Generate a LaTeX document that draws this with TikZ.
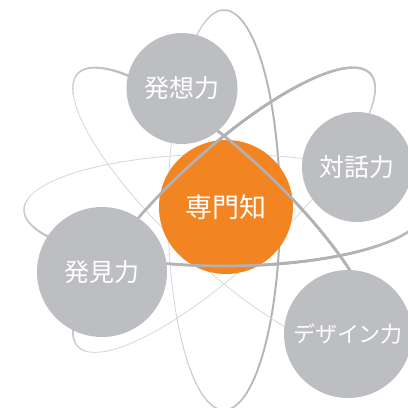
\documentclass[tikz,border=0pt]{standalone}
\usepackage{fontspec}
\newfontfamily\jp{Noto Sans CJK JP}
\definecolor{orbdark}{HTML}{B0B1B4}
\definecolor{orblight}{HTML}{D4D5D7}
\definecolor{circgray}{HTML}{BDBEC1}
\definecolor{coreorange}{HTML}{F28421}
\tikzset{
  declare function={
    ex(\aa,\bb)=224+200*cos(\aa)*cos(\bb)-56*sin(\aa)*sin(\bb);
    ey(\aa,\bb)=210+200*cos(\aa)*sin(\bb)+56*sin(\aa)*cos(\bb);
  },
  skill/.style={circle, fill=circgray, inner sep=0pt, text=white,
    font=\jp\fontsize{25}{25}\selectfont},
  core/.style={circle, fill=coreorange, inner sep=0pt, text=white,
    font=\jp\fontsize{27}{27}\selectfont},
  orbseg/.style={line cap=round}
}
% #1 tilt, #2 centre of thick part, #3 spread, #4 max width, #5 front only (1) or all (0)
\newcommand\orbitpath[5]{%
  \foreach \t in {0,3,...,357}{%
    \pgfmathsetmacro\of{max(0,cos(#3*(mod(\t-#2+540,360)-180)))}%
    \pgfmathsetmacro\ow{0.75+(#4-0.75)*\of}%
    \pgfmathtruncatemacro\op{100*\of}%
    \pgfmathtruncatemacro\oskip{and(equal(#5,1),less(\op,5))}%
    \ifnum\oskip=0
      \draw[orbseg, line width=\ow pt, color=orbdark!\op!orblight]
        ({ex(\t,#1)},{ey(\t,#1)}) -- ({ex(\t+3,#1)},{ey(\t+3,#1)});
    \fi
  }%
}
\begin{document}
\begin{tikzpicture}[x=1pt,y=-1pt]
\useasboundingbox (0,0) rectangle (408,408);
% back layer of orbits
\orbitpath{90}{270}{0.6}{2.0}{0}
\orbitpath{0}{75}{0.75}{2.7}{0}
\orbitpath{-43}{285}{0.75}{2.7}{0}
\orbitpath{43}{280}{0.72}{2.7}{0}
% core
\node[core, minimum size=134pt] (core) at (226,207) {専門知};
% front layer of orbits
\orbitpath{0}{75}{0.75}{2.7}{1}
\orbitpath{-43}{285}{0.75}{2.7}{1}
\orbitpath{43}{280}{0.72}{2.7}{1}
% skills
\node[skill, minimum size=111pt] (hasso) at (182,88.5) {発想力};
\node[skill, minimum size=110pt] (taiwa) at (357,167) {対話力};
\node[skill, minimum size=130pt] (hakken) at (102,272) {発見力};
\node[skill, minimum size=128pt, font=\jp\fontsize{22}{22}\selectfont] (design) at (348,334) {デザイン力};
\end{tikzpicture}
\end{document}
